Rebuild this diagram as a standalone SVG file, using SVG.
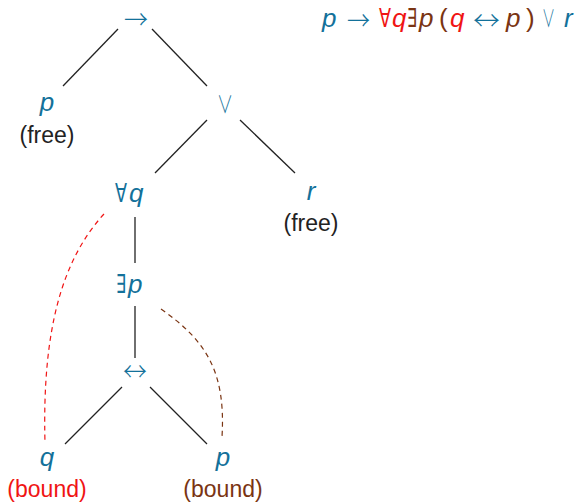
<svg xmlns="http://www.w3.org/2000/svg" width="579" height="502" viewBox="0 0 579 502">
<style>
.t{font-family:"Liberation Sans",Arial,sans-serif;font-size:26px;fill:#13719a}
.m{text-anchor:middle}
.v{font-style:italic}
.s{font-family:"DejaVu Sans",sans-serif;font-size:26px}
.a{font-family:"Noto Sans CJK SC",sans-serif;font-size:26px;font-weight:300}
.o{font-family:"Noto Sans CJK SC",sans-serif;font-size:24px;font-weight:300}
.lab{font-family:"Liberation Sans",Arial,sans-serif;font-size:23px;text-anchor:middle}
.e{stroke:#222;stroke-width:1.3;fill:none}
.red{fill:#f01414}
.brn{fill:#7a3412}
</style>
<rect width="579" height="502" fill="#fff"/>
<g id="connectors">
<line class="e" x1="118" y1="29" x2="63" y2="86"/>
<line class="e" x1="152" y1="29" x2="207" y2="86"/>
<line class="e" x1="207" y1="120" x2="155" y2="173"/>
<line class="e" x1="240" y1="120" x2="295" y2="173"/>
<line class="e" x1="135" y1="217" x2="135" y2="263"/>
<line class="e" x1="135" y1="306" x2="135" y2="358"/>
<line class="e" x1="122" y1="387" x2="65" y2="444"/>
<line class="e" x1="150" y1="387" x2="207" y2="444"/>
<path d="M104,214 C62,260 42,330 45,443" stroke="#f01414" stroke-width="1.2" fill="none" stroke-dasharray="5,4"/>
<path d="M161,309 C205,340 226,370 222,437" stroke="#7a3412" stroke-width="1.2" fill="none" stroke-dasharray="5,4"/>
</g>
<g id="n-imp"><text class="t a" x="124" y="29" textLength="24" lengthAdjust="spacingAndGlyphs">→</text></g>
<g id="n-p1"><text class="t v m" x="47" y="111">p</text><text class="lab" x="47" y="143" fill="#222">(free)</text></g>
<g id="n-or"><text class="t o" x="217" y="113" textLength="16" lengthAdjust="spacingAndGlyphs">∨</text></g>
<g id="n-all"><text class="t s" x="115" y="202" textLength="12" lengthAdjust="spacingAndGlyphs">∀</text><text class="t v" x="129" y="202">q</text></g>
<g id="n-r"><text class="t v m" x="311" y="200">r</text><text class="lab" x="311" y="231" fill="#222">(free)</text></g>
<g id="n-ex"><text class="t s" x="116" y="293" textLength="10" lengthAdjust="spacingAndGlyphs">∃</text><text class="t v" x="128" y="293">p</text></g>
<g id="n-iff"><text class="t a" x="123" y="381" textLength="24" lengthAdjust="spacingAndGlyphs">↔</text></g>
<g id="n-q"><text class="t v m" x="47" y="466">q</text><text class="lab red" x="47" y="497">(bound)</text></g>
<g id="n-p2"><text class="t v m" x="223" y="466">p</text><text class="lab brn" x="223" y="497">(bound)</text></g>
<g id="formula">
<text class="t v" x="322" y="27">p</text>
<text class="t a" x="347" y="30" textLength="23" lengthAdjust="spacingAndGlyphs">→</text>
<text class="t s red" x="379" y="27" textLength="12" lengthAdjust="spacingAndGlyphs">∀</text>
<text class="t v red" x="392" y="27">q</text>
<text class="t s brn" x="407" y="27" textLength="10" lengthAdjust="spacingAndGlyphs">∃</text>
<text class="t v brn" x="419" y="27">p</text>
<text class="t brn" x="439" y="27">(</text>
<text class="t v red" x="450" y="27">q</text>
<text class="t a" x="473" y="30" textLength="27" lengthAdjust="spacingAndGlyphs">↔</text>
<text class="t v brn" x="506" y="27">p</text>
<text class="t brn" x="526" y="27">)</text>
<text class="t o" x="542" y="27" textLength="13" lengthAdjust="spacingAndGlyphs">∨</text>
<text class="t v" x="564" y="27">r</text>
</g>
</svg>
